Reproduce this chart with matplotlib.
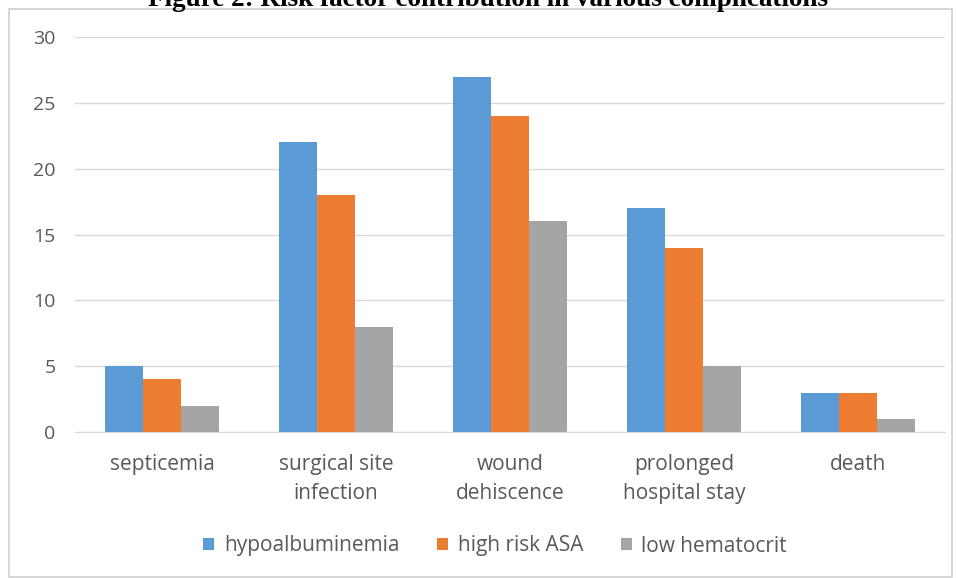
import matplotlib
matplotlib.use("Agg")
import matplotlib.pyplot as plt
import numpy as np
from matplotlib.patches import Rectangle

categories = ["septicemia", "surgical site\ninfection", "wound\ndehiscence",
              "prolonged\nhospital stay", "death"]
series_names = ["hypoalbuminemia", "high risk ASA", "low hematocrit"]
hypoalbuminemia = [5, 22, 27, 17, 3]
high_risk_asa = [4, 18, 24, 14, 3]
low_hematocrit = [2, 8, 16, 5, 1]
colors = ["#5B9BD5", "#ED7D31", "#A5A5A5"]
yticks = [0, 5, 10, 15, 20, 25, 30]
title = "Figure 2: Risk factor contribution in various complications"

W, H = 958, 578
fig = plt.figure(figsize=(W / 100, H / 100), dpi=100)
fig.patch.set_facecolor("white")

# chart border box
fig.patches.append(Rectangle((9 / W, 1 - 577 / H), (952 - 9) / W, (577 - 9) / H,
                             transform=fig.transFigure, fill=False,
                             edgecolor="#D0D0D0", linewidth=1.2))

# clipped title at very top (as in the reference)
fig.text(488 / W, 1 - 6 / H, title, ha="center", va="baseline",
         fontsize=19.5, fontweight="bold", family="Liberation Serif", color="black")

ax = fig.add_axes([75 / W, 1 - 432 / H, (945 - 75) / W, (432 - 37) / H])
x = np.arange(len(categories))
bw = 0.218
data = [hypoalbuminemia, high_risk_asa, low_hematocrit]
for i, (vals, name, c) in enumerate(zip(data, series_names, colors)):
    ax.bar(x + (i - 1) * bw, vals, bw, color=c, label=name, zorder=3)

ax.set_xlim(-0.5, len(categories) - 0.5)
ax.set_ylim(0, 30)
ax.set_yticks(yticks)
ax.yaxis.grid(True, color="#D9D9D9", linewidth=1, zorder=0)
ax.set_axisbelow(True)
for s in ["top", "right", "left"]:
    ax.spines[s].set_visible(False)
ax.spines["bottom"].set_color("#D9D9D9")
ax.tick_params(axis="both", length=0, colors="#595959")
ax.tick_params(axis="y", pad=14, labelsize=14)
ax.tick_params(axis="x", pad=16, labelsize=15)
ax.set_xticks(x)
ax.set_xticklabels(categories, family="Open Sans", linespacing=1.5)
for lab in ax.get_yticklabels():
    lab.set_family("Open Sans")

leg = fig.legend(loc="center", bbox_to_anchor=(495 / W, 1 - 546 / H), ncol=3,
                 frameon=False, handlelength=0.55, handleheight=0.55,
                 handletextpad=0.45, columnspacing=1.8,
                 prop={"family": "Open Sans", "size": 15})
for t in leg.get_texts():
    t.set_color("#595959")

fig.savefig("out.png", dpi=100)
